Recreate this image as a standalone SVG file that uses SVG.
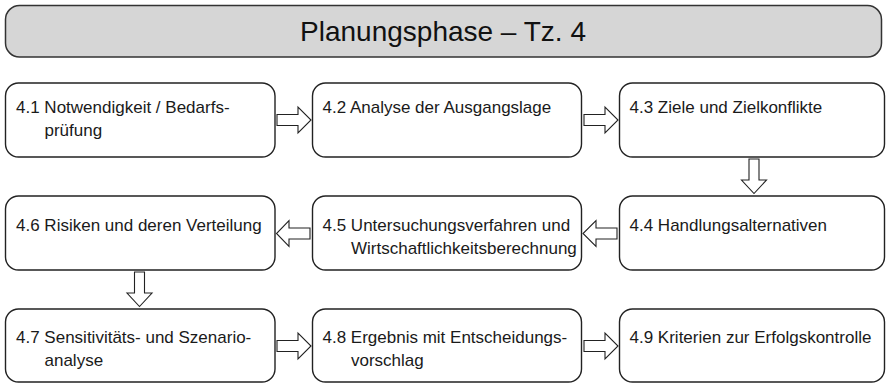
<svg xmlns="http://www.w3.org/2000/svg" width="886" height="383" viewBox="0 0 886 383">
<style>
.hdr{fill:#d6d6d6;stroke:#333;stroke-width:1.5}
.box{fill:#fff;stroke:#222;stroke-width:1.4}
.arr{fill:#fff;stroke:#222;stroke-width:1.1;stroke-linejoin:miter}
.t{font-family:"Liberation Sans",Arial,Helvetica,sans-serif;font-size:17px;fill:#1a1a1a}
.title{font-family:"Liberation Sans",Arial,Helvetica,sans-serif;font-size:28px;fill:#111;text-anchor:middle}
</style>
<rect width="886" height="383" fill="#fff"/>
<g id="header">
<rect class="hdr" x="5.5" y="5.5" width="876" height="51.5" rx="14"/>
<text class="title" x="443" y="40.5">Planungsphase – Tz. 4</text>
</g>
<g id="n41">
<rect class="box" x="5.5" y="83" width="269.5" height="74" rx="13"/>
<text class="t" x="16" y="113.3">4.1 Notwendigkeit / Bedarfs-<tspan x="44.5" y="136.3">prüfung</tspan></text>
</g>
<g id="n42">
<rect class="box" x="312.5" y="83" width="269" height="74" rx="13"/>
<text class="t" x="322.5" y="113.3">4.2 Analyse der Ausgangslage</text>
</g>
<g id="n43">
<rect class="box" x="619.5" y="83" width="265" height="74" rx="13"/>
<text class="t" x="629.5" y="113.3">4.3 Ziele und Zielkonflikte</text>
</g>
<g id="n44">
<rect class="box" x="619.5" y="196" width="265" height="74" rx="13"/>
<text class="t" x="629.5" y="230.5">4.4 Handlungsalternativen</text>
</g>
<g id="n45">
<rect class="box" x="312.5" y="196" width="269" height="74" rx="13"/>
<text class="t" x="322.5" y="230.5">4.5 Untersuchungsverfahren und<tspan x="351" y="254">Wirtschaftlichkeitsberechnung</tspan></text>
</g>
<g id="n46">
<rect class="box" x="5.5" y="196" width="269.5" height="74" rx="13"/>
<text class="t" x="16" y="230.5">4.6 Risiken und deren Verteilung</text>
</g>
<g id="n47">
<rect class="box" x="5.5" y="309" width="269.5" height="73" rx="13"/>
<text class="t" x="16" y="343.3">4.7 Sensitivitäts- und Szenario-<tspan x="44.5" y="366.3">analyse</tspan></text>
</g>
<g id="n48">
<rect class="box" x="312.5" y="309" width="269" height="73" rx="13"/>
<text class="t" x="322.5" y="343.3">4.8 Ergebnis mit Entscheidungs-<tspan x="351" y="366.3">vorschlag</tspan></text>
</g>
<g id="n49">
<rect class="box" x="619.5" y="309" width="265" height="73" rx="13"/>
<text class="t" x="629.5" y="343.3">4.9 Kriterien zur Erfolgskontrolle</text>
</g>
<g id="connectors">
<path class="arr" d="M277,114.5 H298 V107 L311,120 L298,133 V125.5 H277 Z"/>
<path class="arr" d="M584,114.5 H605 V107 L618,120 L605,133 V125.5 H584 Z"/>
<path class="arr" d="M749,159 V180 H741.5 L754,193.5 L766.5,180 H759 V159 Z"/>
<path class="arr" d="M617,228 H596 V220.5 L583,233.5 L596,246.5 V239 H617 Z"/>
<path class="arr" d="M310,228 H289 V220.5 L276.5,233.5 L289,246.5 V239 H310 Z"/>
<path class="arr" d="M134.5,272 V293 H127 L139.5,306.5 L152,293 H144.5 V272 Z"/>
<path class="arr" d="M277,340.5 H298 V333 L311,346 L298,359 V351.5 H277 Z"/>
<path class="arr" d="M584,340.5 H605 V333 L618,346 L605,359 V351.5 H584 Z"/>
</g>
</svg>
